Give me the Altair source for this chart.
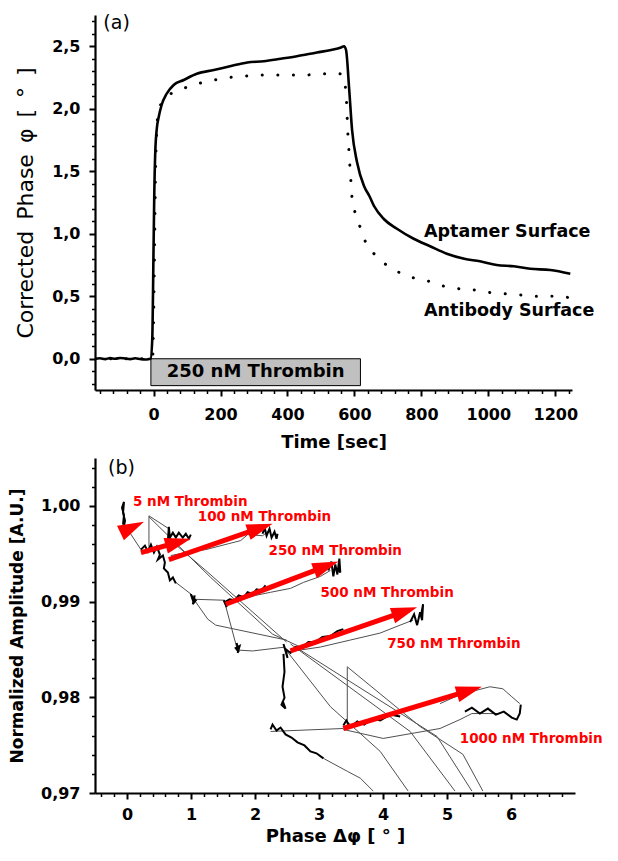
import math
import altair as alt
import pandas as pd

FONT = "DejaVu Sans"

# ---------------- panel (a): phase vs time ----------------
time_aptamer = [-175, -160, -145, -130, -115, -100, -85, -70, -55, -40, -25, -15, -9,
                -4, 0, 2, 5, 10, 15, 24, 39, 60, 90,
                129, 180, 228, 280, 329, 380, 428, 488, 530, 560,
                569, 575, 584, 593, 608, 629, 645, 659, 687, 727,
                777, 826, 876, 928, 975, 1025, 1076, 1125, 1185, 1245]
phase_aptamer = [0.0, 0.004, -0.003, 0.005, 0.0, 0.006, 0.002, -0.003, 0.004, -0.002, -0.006, -0.003, 0.0,
                 0.15, 0.9, 1.3, 1.65, 1.85, 1.93, 2.03, 2.12, 2.19, 2.23,
                 2.28, 2.31, 2.34, 2.37, 2.38, 2.40, 2.42, 2.45, 2.47, 2.49,
                 2.50, 2.47, 2.17, 1.83, 1.57, 1.38, 1.30, 1.22, 1.12, 1.04,
                 0.96, 0.90, 0.84, 0.80, 0.78, 0.75, 0.74, 0.72, 0.71, 0.68]

time_antibody = [-175, -3, 0, 3, 6, 10, 15, 25, 42, 87,
                 132, 182, 225, 269, 314, 360, 407, 455, 503, 554,
                 566, 572, 577, 580, 583, 586, 589, 592, 601, 616,
                 634, 666, 727, 773, 822, 868, 913, 961, 1006, 1048,
                 1096, 1140, 1189, 1240]
phase_antibody = [0.0, 0.0, 0.3, 0.9, 1.5, 1.85, 1.98, 2.05, 2.10, 2.16,
                  2.20, 2.23, 2.25, 2.26, 2.27, 2.27, 2.27, 2.27, 2.28, 2.28,
                  2.27, 2.20, 2.02, 1.82, 1.69, 1.56, 1.44, 1.31, 1.18, 1.06,
                  0.93, 0.82, 0.70, 0.65, 0.62, 0.58, 0.56, 0.55, 0.53, 0.52,
                  0.51, 0.50, 0.50, 0.49]

injection_label = ["250 nM Thrombin"]
injection_start = [-8]
injection_end = [618]
injection_top = [0.0]
injection_bottom = [-0.215]

surface_labels = ["Aptamer Surface", "Antibody Surface"]
surface_label_t = [808, 808]
surface_label_v = [1.016, 0.381]

xa_major = [0, 200, 400, 600, 800, 1000, 1200]
ya_major = [0.0, 0.5, 1.0, 1.5, 2.0, 2.5]
xa_minor = [v for v in range(-160, 1250, 40) if v % 200 != 0]
ya_minor = [round(k * 0.1, 1) for k in range(-2, 28) if k % 5 != 0]

# ---------------- panel (b): amplitude vs phase ----------------
gray_01 = ([-0.047, 0.218], [0.99813, 0.99543])
gray_02 = ([0.343, 0.343], [0.99896, 0.99543])
gray_03 = ([0.343, 0.654], [0.99896, 0.99761])
gray_04 = ([0.343, 1.308, 2.274, 2.710], [0.99886, 0.99252, 0.98660, 0.98525])
gray_05 = ([0.685, 1.231, 2.492], [0.99637, 0.99325, 0.98577])
gray_06 = ([0.763, 1.044], [0.99200, 0.99055])
gray_07 = ([1.044, 1.526], [0.99024, 0.99014])
gray_08 = ([1.044, 1.262, 1.386, 2.492], [0.99024, 0.98816, 0.98754, 0.98598])
gray_09 = ([1.526, 1.713], [0.98993, 0.98525])
gray_10 = ([1.713, 1.963, 2.477], [0.98494, 0.98484, 0.98525])
gray_11 = ([0.685, 0.997, 1.231, 1.589, 1.776, 1.885, 2.118, 2.243],
           [0.99481, 0.99522, 0.99543, 0.99605, 0.99637, 0.99699, 0.99688, 0.99751])
gray_12 = ([1.542, 2.009, 2.243, 2.555, 2.757, 3.022, 3.178],
           [0.98972, 0.99065, 0.99097, 0.99138, 0.99200, 0.99263, 0.99325])
gray_13 = ([2.508, 3.022, 3.489, 3.956, 4.268, 4.470],
           [0.98474, 0.98525, 0.98598, 0.98671, 0.98754, 0.98806])
gray_14 = ([4.891, 5.202, 5.436, 5.670, 5.872, 6.012, 6.137],
           [0.97934, 0.98027, 0.98069, 0.98110, 0.98089, 0.98006, 0.97934])
gray_15 = ([3.380, 4.003, 4.891, 5.202, 5.389, 5.670, 5.826],
           [0.97664, 0.97570, 0.97674, 0.97767, 0.97830, 0.97830, 0.97830])
gray_16 = ([2.243, 3.380], [0.97643, 0.97674])
gray_17 = ([3.442, 3.442], [0.98318, 0.97695])
gray_18 = ([3.442, 4.579, 5.249, 5.561], [0.98318, 0.97695, 0.97404, 0.97020])
gray_19 = ([2.555, 4.424, 5.125], [0.98557, 0.97643, 0.97020])
gray_20 = ([2.632, 4.844, 5.389], [0.98525, 0.97591, 0.97020])
gray_21 = ([2.508, 3.178, 3.956, 4.393], [0.98474, 0.97902, 0.97435, 0.97020])
gray_22 = ([3.069, 3.442, 3.645, 3.847], [0.97362, 0.97227, 0.97155, 0.97020])

noisy_01 = ([-0.062, -0.047, -0.078, -0.047, -0.062, -0.031, -0.047],
            [0.99803, 0.99907, 0.99979, 1.00042, 0.99927, 0.99844, 0.99792])
noisy_02 = ([0.218, 0.280, 0.327, 0.374, 0.421, 0.467, 0.514, 0.483, 0.561, 0.592, 0.576, 0.639, 0.670, 0.717, 0.763],
            [0.99543, 0.99585, 0.99522, 0.99595, 0.99512, 0.99574, 0.99491, 0.99439, 0.99481, 0.99408,
             0.99346, 0.99304, 0.99221, 0.99252, 0.99190])
noisy_03 = ([0.639, 0.654, 0.670, 0.717, 0.763, 0.810, 0.872, 0.919, 0.966, 0.997],
            [0.99637, 0.99782, 0.99668, 0.99720, 0.99668, 0.99720, 0.99668, 0.99709, 0.99657, 0.99699])
noisy_04 = ([2.118, 2.150, 2.181, 2.227, 2.259, 2.305, 2.336, 2.352],
            [0.99709, 0.99772, 0.99688, 0.99761, 0.99668, 0.99730, 0.99657, 0.99709])
noisy_05 = ([0.997, 1.044, 1.012, 1.075, 1.028, 1.059],
            [0.99076, 0.98982, 0.99055, 0.99014, 0.98972, 0.99065])
noisy_06 = ([1.511, 1.558, 1.526, 1.604, 1.682, 1.745, 1.822, 1.885, 1.963, 2.025, 2.103, 2.165],
            [0.99014, 0.98941, 0.98993, 0.99024, 0.99014, 0.99065, 0.99045, 0.99097, 0.99076, 0.99128,
             0.99117, 0.99169])
noisy_07 = ([3.146, 3.193, 3.224, 3.255, 3.287, 3.318, 3.333, 3.287],
            [0.99325, 0.99418, 0.99263, 0.99387, 0.99283, 0.99450, 0.99304, 0.99356])
noisy_08 = ([1.713, 1.745, 1.698, 1.760, 1.729],
            [0.98567, 0.98474, 0.98515, 0.98536, 0.98463])
noisy_09 = ([2.445, 2.508, 2.477, 2.555, 2.632, 2.741, 2.835, 2.944, 3.053, 3.178, 3.287, 3.380],
            [0.98557, 0.98411, 0.98505, 0.98463, 0.98525, 0.98525, 0.98577, 0.98577, 0.98629, 0.98640,
             0.98692, 0.98712])
noisy_10 = ([4.424, 4.486, 4.533, 4.579, 4.611, 4.626, 4.595],
            [0.98785, 0.98868, 0.98754, 0.98889, 0.98806, 0.98972, 0.98858])
noisy_11 = ([2.445, 2.461, 2.430, 2.461, 2.414, 2.477, 2.430],
            [0.98453, 0.98266, 0.98110, 0.97996, 0.97923, 0.97882, 0.97965])
noisy_12 = ([3.380, 3.427, 3.489, 3.598, 3.707, 3.832, 3.956, 4.112, 4.268],
            [0.97705, 0.97757, 0.97684, 0.97747, 0.97715, 0.97778, 0.97757, 0.97819, 0.97799])
noisy_13 = ([5.280, 5.389, 5.514, 5.639, 5.763, 5.888, 6.012, 6.090, 6.137, 6.153],
            [0.97850, 0.97892, 0.97830, 0.97882, 0.97819, 0.97850, 0.97788, 0.97767, 0.97830, 0.97923])
noisy_14 = ([2.243, 2.274, 2.336, 2.399, 2.477, 2.570, 2.664, 2.773, 2.866, 2.960, 3.069],
            [0.97664, 0.97715, 0.97653, 0.97684, 0.97612, 0.97580, 0.97529, 0.97497, 0.97435, 0.97415, 0.97362])

arrow_x0 = [-0.093, 0.218, 0.654, 1.542, 2.555, 3.380]
arrow_y0 = [0.99720, 0.99512, 0.99439, 0.98972, 0.98484, 0.97674]
arrow_x1 = [0.265, 0.997, 2.274, 3.302, 4.533, 5.545]
arrow_y1 = [0.99834, 0.99657, 0.99813, 0.99418, 0.98941, 0.98110]

conc_labels = ["5 nM Thrombin", "100 nM Thrombin", "250 nM Thrombin",
               "500 nM Thrombin", "750 nM Thrombin", "1000 nM Thrombin"]
conc_label_x = [0.093, 1.106, 2.212, 3.022, 4.065, 5.200]
conc_label_y = [1.00042, 0.99886, 0.99533, 0.99086, 0.98557, 0.97560]

xb_major = [0, 1, 2, 3, 4, 5, 6]
yb_major = [0.97, 0.98, 0.99, 1.00]
xb_minor = [round(k * 0.2, 1) for k in range(-2, 36) if k % 5 != 0]
yb_minor = [round(0.97 + 0.002 * k, 3) for k in range(1, 18) if k % 5 != 0]

# ---------------- layout constants ----------------
WA, HA = 477, 375
WB, HB = 480, 335
XA_DOM, YA_DOM = [-175, 1250], [-0.25, 2.75]
XB_DOM, YB_DOM = [-0.5, 7.0], [0.97, 1.005]
RED = "#ff0000"
SP = "\u2002"


def major_axis(orient, values, expr, title_size, title_weight, title_pad, label_pad):
    return alt.Axis(orient=orient, values=values, labelExpr=expr, tickSize=6, tickWidth=2,
                    tickColor="black", domainColor="black", domainWidth=2.2,
                    labelFont=FONT, labelFontSize=16, labelFontWeight="bold", labelColor="black",
                    labelPadding=label_pad, labelFlush=False, labelOverlap=False,
                    titleFont=FONT, titleFontSize=title_size, titleFontWeight=title_weight,
                    titleColor="black", titlePadding=title_pad, grid=False)


def minor_axis(orient, values):
    return alt.Axis(orient=orient, values=values, labels=False, domain=False, tickSize=3.5,
                    tickWidth=1.5, tickColor="black", grid=False)


# ---------------- panel (a) chart ----------------
sxa = alt.Scale(domain=XA_DOM, nice=False, zero=False)
sya = alt.Scale(domain=YA_DOM, nice=False, zero=False)

apt_df = pd.DataFrame({"t": time_aptamer, "v": phase_aptamer})
ab_df = pd.DataFrame({"t": time_antibody, "v": phase_antibody})
box_df = pd.DataFrame({"x0": injection_start, "x1": injection_end, "y0": injection_bottom,
                       "y1": injection_top, "label": injection_label})
surf_df = pd.DataFrame({"t": surface_label_t, "v": surface_label_v, "label": surface_labels})
tag_a = pd.DataFrame({"t": [-150], "v": [2.69], "label": ["(a)"]})

y_title_a = SP.join(["Corrected", "Phase", "\u03c6", "[", "\u00b0", "]"])

box = alt.Chart(box_df).mark_rect(fill="#c0c0c0", stroke="black", strokeWidth=1).encode(
    x=alt.X("x0:Q", scale=sxa, title="Time [sec]",
            axis=major_axis("bottom", xa_major, "format(datum.value, 'd')", 18, "bold", 11, 10)),
    x2="x1:Q",
    y=alt.Y("y0:Q", scale=sya, title=y_title_a,
            axis=major_axis("left", ya_major, "replace(format(datum.value, '.1f'), '.', ',')",
                            22, "normal", 14, 9)),
    y2="y1:Q",
)
box_text = alt.Chart(box_df).mark_text(font=FONT, fontSize=18, fontWeight="bold", color="black",
                                       baseline="middle", align="center").encode(
    x=alt.X("mid:Q", scale=sxa, axis=None),
    y=alt.Y("ym:Q", scale=sya, axis=None),
    text="label:N",
).transform_calculate(mid="(datum.x0 + datum.x1) / 2", ym="(datum.y0 + datum.y1) / 2")

apt_line = alt.Chart(apt_df).mark_line(color="black", strokeWidth=2.6, clip=True,
                                       interpolate="monotone").encode(
    x=alt.X("t:Q", scale=sxa, title="", axis=minor_axis("bottom", xa_minor)),
    y=alt.Y("v:Q", scale=sya, title="", axis=minor_axis("left", ya_minor)),
    order="t:Q",
)
ab_line = alt.Chart(ab_df).mark_line(color="black", strokeWidth=3, strokeDash=[0.1, 15.5],
                                     strokeCap="round", clip=True, interpolate="monotone").encode(
    x=alt.X("t:Q", scale=sxa, axis=None),
    y=alt.Y("v:Q", scale=sya, axis=None),
    order="t:Q",
)
surf_text = alt.Chart(surf_df).mark_text(font=FONT, fontSize=17.5, fontWeight="bold", color="black",
                                         align="left", baseline="middle").encode(
    x=alt.X("t:Q", scale=sxa, axis=None),
    y=alt.Y("v:Q", scale=sya, axis=None),
    text="label:N",
)
tag_a_text = alt.Chart(tag_a).mark_text(font=FONT, fontSize=19, color="black",
                                        align="left", baseline="middle").encode(
    x=alt.X("t:Q", scale=sxa, axis=None),
    y=alt.Y("v:Q", scale=sya, axis=None),
    text="label:N",
)

panel_a = alt.layer(box, apt_line, ab_line, box_text, surf_text, tag_a_text).resolve_axis(
    x="independent", y="independent").properties(width=WA, height=HA)

# ---------------- panel (b) chart ----------------
sxb = alt.Scale(domain=XB_DOM, nice=False, zero=False)
syb = alt.Scale(domain=YB_DOM, nice=False, zero=False)

gray_traces = [gray_01, gray_02, gray_03, gray_04, gray_05, gray_06, gray_07, gray_08, gray_09,
               gray_10, gray_11, gray_12, gray_13, gray_14, gray_15, gray_16, gray_17, gray_18,
               gray_19, gray_20, gray_21, gray_22]
noisy_traces = [noisy_01, noisy_02, noisy_03, noisy_04, noisy_05, noisy_06, noisy_07, noisy_08,
                noisy_09, noisy_10, noisy_11, noisy_12, noisy_13, noisy_14]


def trace_rows(traces, prefix):
    rows = []
    for k, (xs, ys) in enumerate(traces):
        for i, (x, y) in enumerate(zip(xs, ys)):
            rows.append({"seg": f"{prefix}{k}", "i": i, "x": x, "y": y})
    return pd.DataFrame(rows)


gray_df = trace_rows(gray_traces, "g")
noisy_df = trace_rows(noisy_traces, "n")

# arrow geometry: pixel directions from the plot scale, head drawn at the tip
kx = WB / (XB_DOM[1] - XB_DOM[0])
ky = HB / (YB_DOM[1] - YB_DOM[0])
head_len = 26
arrow_rows = []
for x0, y0, x1, y1 in zip(arrow_x0, arrow_y0, arrow_x1, arrow_y1):
    dx = (x1 - x0) * kx
    dy = -(y1 - y0) * ky
    length = math.hypot(dx, dy)
    ux, uy = dx / length, dy / length
    back = min(head_len * 0.55, length * 0.6)
    arrow_rows.append({
        "x0": x0, "y0": y0, "x1": x1, "y1": y1,
        "xe": x1 - back * ux / kx, "ye": y1 + back * uy / ky,
        "angle": math.degrees(math.atan2(dy, dx)) % 360,
    })
arrow_df = pd.DataFrame(arrow_rows)
label_df = pd.DataFrame({"x": conc_label_x, "y": conc_label_y, "label": conc_labels})
tag_b = pd.DataFrame({"x": [-0.296], "y": [1.00395], "label": ["(b)"]})

gray = alt.Chart(gray_df).mark_line(color="#505050", strokeWidth=1, clip=True).encode(
    x=alt.X("x:Q", scale=sxb, title="Phase \u0394\u03c6 [ \u00b0 ]",
            axis=major_axis("bottom", xb_major, "format(datum.value, 'd')", 18, "bold", 5, 7)),
    y=alt.Y("y:Q", scale=syb, title="Normalized Amplitude [A.U.]",
            axis=major_axis("left", yb_major, "replace(format(datum.value, '.2f'), '.', ',')",
                            17, "bold", 14, 9)),
    detail="seg:N",
    order="i:Q",
)
noisy = alt.Chart(noisy_df).mark_line(color="black", strokeWidth=2, clip=True).encode(
    x=alt.X("x:Q", scale=sxb, title="", axis=minor_axis("bottom", xb_minor)),
    y=alt.Y("y:Q", scale=syb, title="", axis=minor_axis("left", yb_minor)),
    detail="seg:N",
    order="i:Q",
)
shafts = alt.Chart(arrow_df).mark_rule(color=RED, strokeWidth=5).encode(
    x=alt.X("x0:Q", scale=sxb, axis=None),
    y=alt.Y("y0:Q", scale=syb, axis=None),
    x2="xe:Q",
    y2="ye:Q",
)
heads = alt.Chart(arrow_df).mark_point(shape="M 0 0 L -2 -0.62 L -2 0.62 Z", filled=True,
                                       color=RED, opacity=1, size=head_len ** 2).encode(
    x=alt.X("x1:Q", scale=sxb, axis=None),
    y=alt.Y("y1:Q", scale=syb, axis=None),
    angle=alt.Angle("angle:Q", scale=None),
)
labels = alt.Chart(label_df).mark_text(font=FONT, fontSize=13.5, fontWeight="bold", color=RED,
                                       align="left", baseline="middle").encode(
    x=alt.X("x:Q", scale=sxb, axis=None),
    y=alt.Y("y:Q", scale=syb, axis=None),
    text="label:N",
)
tag_b_text = alt.Chart(tag_b).mark_text(font=FONT, fontSize=19, color="black",
                                        align="left", baseline="middle").encode(
    x=alt.X("x:Q", scale=sxb, axis=None),
    y=alt.Y("y:Q", scale=syb, axis=None),
    text="label:N",
)

panel_b = alt.layer(gray, noisy, shafts, heads, labels, tag_b_text).resolve_axis(
    x="independent", y="independent").properties(width=WB, height=HB)

chart = alt.vconcat(panel_a, panel_b, spacing=7).properties(
    padding={"left": 0, "top": 5, "right": 0, "bottom": 0}
).configure_view(strokeWidth=0).configure_axis(grid=False)

chart.save("out.html", embed_options={"renderer": "svg", "actions": False})
